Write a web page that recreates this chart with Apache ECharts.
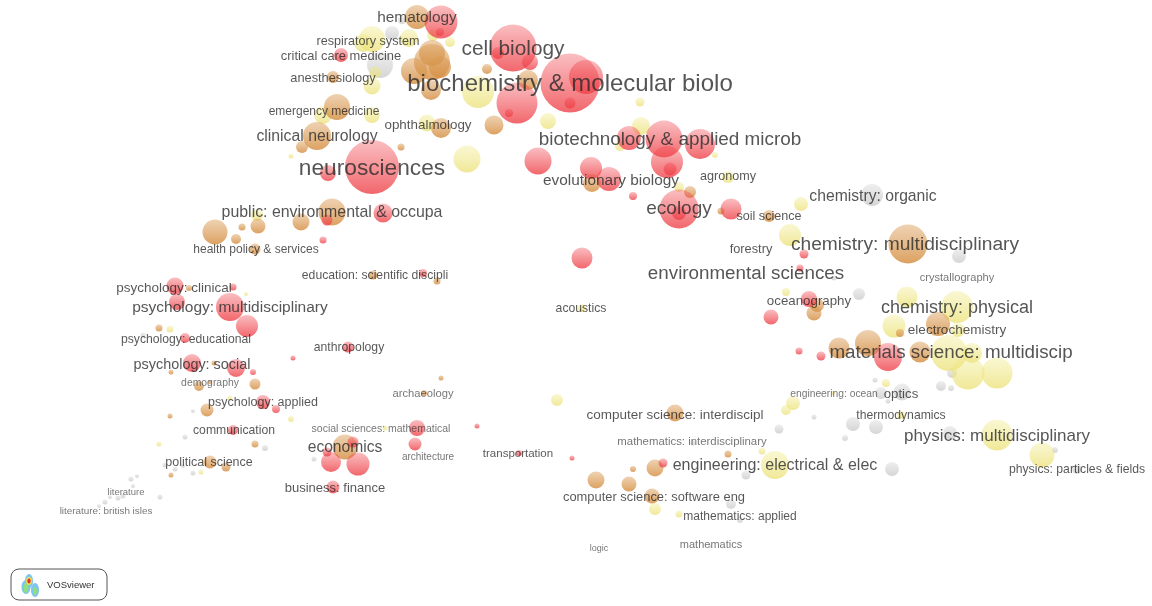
<!DOCTYPE html>
<html><head><meta charset="utf-8">
<style>html,body{margin:0;padding:0;background:#fff}#c{width:1152px;height:606px}</style>
<script src="https://cdn.jsdelivr.net/npm/echarts@6/dist/echarts.min.js"></script>
</head><body><div id="c"></div>
<script>
// VOSviewer map items: [map x, map y, weight]
const grayItems=[[380,65,26],[392,33,14],[402,20,8],[872,195,22],[959,256,14],[859,294,12],[834,278,5],[875,380,5],[952,373,10],[941,386,10],[951,388,6],[902,392,17],[881,393,12],[888,401,5],[814,417,5],[853,424,14],[876,427,14],[845,438,6],[950,433,14],[892,469,14],[1055,450,6],[1077,469,10],[779,429,9],[746,475,9],[731,504,10],[740,520,6],[710,546,4],[693,443,5],[143,335,5],[193,411,4],[185,437,5],[265,448,6],[314,459,5],[165,465,5],[175,469,5],[183,466,4],[193,473,5],[137,476,4],[131,479,5],[133,486,4],[123,496,5],[118,498,5],[110,497,4],[160,497,5],[105,502,5],[99,506,4]];
const yellowItems=[[372,39,26],[363,43,18],[409,38,18],[433,35,12],[450,42,10],[372,86,17],[478,92,32],[323,115,18],[372,115,16],[427,123,17],[548,121,16],[291,156,5],[467,159,27],[375,72,12],[640,102,9],[641,126,18],[620,146,10],[715,155,6],[728,177,12],[679,187,10],[801,204,14],[790,235,22],[786,292,8],[907,297,21],[957,307,32],[894,326,23],[958,330,14],[949,353,36],[972,353,20],[968,373,33],[997,373,31],[886,383,8],[793,403,14],[786,410,10],[901,415,8],[997,435,31],[1042,455,25],[775,465,28],[833,393,4],[257,215,12],[246,294,4],[170,329,7],[230,398,5],[291,419,6],[159,444,5],[201,472,5],[385,428,5],[582,308,8],[557,400,12],[762,451,7],[655,509,12],[679,514,7]];
const tanItems=[[417,17,24],[432,53,26],[432,62,36],[414,71,26],[440,67,22],[431,90,20],[487,69,10],[528,80,20],[333,77,12],[337,107,26],[317,136,28],[302,147,12],[401,147,7],[441,128,20],[494,125,19],[592,183,18],[690,192,12],[769,216,12],[721,211,7],[908,244,39],[817,305,14],[814,313,15],[938,324,24],[839,348,21],[868,343,26],[920,352,21],[900,333,8],[215,232,25],[236,239,10],[242,227,7],[258,226,15],[301,222,17],[332,212,27],[255,249,11],[373,275,9],[189,288,6],[159,328,7],[171,372,5],[214,363,5],[199,386,10],[210,382,4],[255,384,11],[207,410,13],[170,416,5],[255,444,7],[210,462,13],[226,467,9],[171,475,5],[345,447,25],[437,281,7],[441,378,5],[424,393,6],[675,413,17],[728,454,7],[633,469,6],[655,468,17],[596,480,17],[629,484,15],[652,496,15]];
const redItems=[[441,22,33],[440,32,8],[513,48,47],[530,62,16],[498,53,12],[341,55,14],[517,103,41],[509,113,8],[372,167,54],[328,173,16],[538,161,27],[570,83,59],[586,77,34],[570,103,11],[591,168,22],[609,179,24],[629,138,24],[664,139,37],[667,162,32],[670,169,13],[700,144,30],[633,196,8],[679,209,39],[679,213,14],[731,209,21],[582,258,21],[804,254,9],[800,268,7],[809,299,16],[771,317,15],[799,351,7],[821,356,9],[888,357,28],[327,220,11],[383,213,19],[323,240,7],[175,286,17],[233,287,7],[177,302,16],[230,307,28],[247,326,22],[185,338,10],[348,347,11],[293,358,5],[192,363,18],[236,368,18],[253,372,6],[263,402,14],[276,409,8],[233,430,10],[331,462,20],[358,464,23],[327,452,9],[353,442,11],[333,487,13],[423,273,8],[417,428,16],[415,444,13],[477,426,5],[519,453,6],[572,458,5],[663,463,9]];
// Journal labels: [text, map x, map y, weight]
const labelItems=[["hematology",417,17,15.4],["respiratory system",368,41,12.6],["critical care medicine",341,55,12.9],["anesthesiology",333,77,12.8],["emergency medicine",324,111,12],["ophthalmology",428,124,13.4],["clinical neurology",317,136,15.8],["cell biology",513,48,20.8],["biochemistry & molecular biolo",570,83,24],["neurosciences",372,168,22.7],["biotechnology & applied microb",670,139,18.9],["evolutionary biology",611,180,15.4],["agronomy",728,176,12.6],["ecology",679,208,19],["soil science",769,216,12.6],["chemistry: organic",873,196,15.7],["chemistry: multidisciplinary",905,244,19.2],["forestry",751,248,12.8],["environmental sciences",746,273,18.8],["crystallography",957,277,11.1],["oceanography",809,300,13.3],["chemistry: physical",957,307,18],["electrochemistry",957,329,13.5],["materials science: multidiscip",951,352,18.8],["engineering: ocean",834,393,10.3],["optics",901,393,13.2],["thermodynamics",901,415,12.2],["physics: multidisciplinary",997,435,17],["physics: particles & fields",1077,469,12.2],["computer science: interdiscipl",675,414,13.5],["mathematics: interdisciplinary",692,441,11.4],["engineering: electrical & elec",775,465,16],["computer science: software eng",654,496,12.9],["mathematics: applied",740,516,12],["mathematics",711,544,11],["logic",599,548,9],["acoustics",581,308,12.2],["transportation",518,453,11.5],["architecture",428,456,10],["archaeology",423,393,11.2],["social sciences: mathematical",381,428,10.5],["economics",345,447,15.6],["business: finance",335,487,13],["anthropology",349,347,12.2],["education: scientific discipli",375,275,12.2],["public: environmental & occupa",332,212,15.9],["health policy & services",256,249,12],["psychology: clinical",174,287,13.5],["psychology: multidisciplinary",230,307,15.5],["psychology: educational",186,339,12.2],["psychology: social",192,364,14.4],["demography",210,382,10.4],["psychology: applied",263,402,12.5],["communication",234,430,12.2],["political science",209,462,12.5],["literature",126,491,9.5],["literature: british isles",106,510,9.9]];
const logoText="VOSviewer";

const FONT='"Liberation Sans",Arial,sans-serif';
const grad=(a,b)=>new echarts.graphic.LinearGradient(0,0,0,1,[{offset:0,color:a},{offset:1,color:b}]);
const bubbles=(data,a,b)=>({type:'scatter',data,symbolSize:v=>v[2],silent:true,
  itemStyle:{color:grad(a,b),opacity:1,borderWidth:0}});

const chart=echarts.init(document.getElementById('c'),null,{renderer:'canvas'});
chart.setOption({
  animation:false,backgroundColor:'#fff',
  grid:{left:0,right:0,top:0,bottom:0},
  xAxis:{type:'value',min:0,max:1152,show:false},
  yAxis:{type:'value',min:0,max:606,inverse:true,show:false},
  series:[
    bubbles(grayItems,'rgba(200,200,200,0.3)','rgba(200,200,200,0.75)'),
    bubbles(yellowItems,'rgba(240,232,130,0.35)','rgba(236,226,125,0.8)'),
    bubbles(tanItems,'rgba(218,155,85,0.45)','rgba(214,145,70,0.85)'),
    bubbles(redItems,'rgba(240,70,78,0.35)','rgba(238,65,72,0.8)'),
    {type:'scatter',silent:true,z:10,symbolSize:0,
     data:labelItems.map(d=>({value:[d[1],d[2]],label:{
        show:true,position:'inside',align:'center',verticalAlign:'middle',offset:[0,1],
        formatter:d[0],fontFamily:FONT,fontSize:d[3],
        color:d[3]>=14?'#2a2a2a':(d[3]>=11.5?'rgba(25,25,25,0.92)':'rgba(45,45,45,0.82)')}}))}
  ],
  graphic:[
    {type:'rect',z:20,shape:{x:11,y:569,width:96,height:31,r:8},style:{fill:'#fff',stroke:'#555',lineWidth:1}},
    {type:'ellipse',z:21,shape:{cx:26,cy:587,rx:4.5,ry:7},style:{fill:'#7fc4ee'}},
    {type:'ellipse',z:21,shape:{cx:35,cy:590,rx:4,ry:7},style:{fill:'#7fc4ee'}},
    {type:'ellipse',z:21,shape:{cx:29,cy:581,rx:4,ry:7},style:{fill:'#7fc4ee'}},
    {type:'ellipse',z:21,shape:{cx:26,cy:588,rx:2.5,ry:5},style:{fill:'#8fe07a'}},
    {type:'ellipse',z:21,shape:{cx:35,cy:591,rx:2,ry:4},style:{fill:'#8fe07a'}},
    {type:'ellipse',z:21,shape:{cx:29,cy:581,rx:3,ry:4},style:{fill:'#f2e24a'}},
    {type:'ellipse',z:21,shape:{cx:29,cy:581,rx:1.7,ry:2.5},style:{fill:'#e0322c'}},
    {type:'text',z:21,x:47,y:580,style:{text:logoText,fontFamily:FONT,fontSize:9.5,fill:'#333'}}
  ]
});
</script></body></html>
